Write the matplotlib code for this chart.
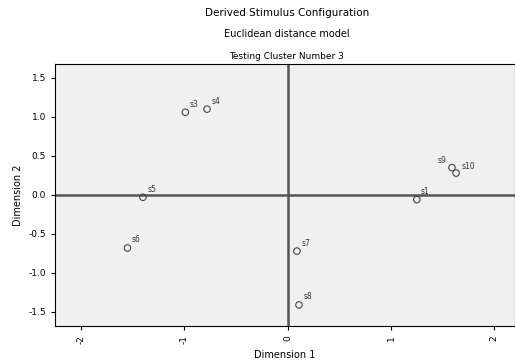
import numpy as np
import matplotlib.pyplot as plt

# Stimulus coordinates (dimension 1, dimension 2)
names = ['s3', 's4', 's5', 's6', 's7', 's8', 's9', 's10', 's1']
dim1 = [-0.99, -0.78, -1.40, -1.55, 0.09, 0.11, 1.59, 1.63, 1.25]
dim2 = [1.06, 1.10, -0.03, -0.68, -0.72, -1.41, 0.35, 0.28, -0.06]
# label offsets in points
offs = [(3, 4), (3, 4), (3, 4), (3, 4), (3, 4), (3, 4), (-10, 3), (4, 3), (3, 4)]

xticks = [-2, -1, 0, 1, 2]
yticks = [-1.5, -1.0, -0.5, 0.0, 0.5, 1.0, 1.5]

plt.rcParams.update({'font.family': 'DejaVu Sans', 'font.size': 6.5})

fig = plt.figure(figsize=(5.15, 3.63), dpi=100)
ax = fig.add_axes([0.107, 0.102, 0.893, 0.722])
ax.set_facecolor('#f0f0f0')

ax.axvline(0, color='#555555', lw=1.8, zorder=1)
ax.axhline(0, color='#555555', lw=1.8, zorder=1)

ax.scatter(dim1, dim2, s=22, facecolors='none', edgecolors='#444444', lw=0.8, zorder=3)
for n, x, y, o in zip(names, dim1, dim2, offs):
    ax.annotate(n, (x, y), xytext=o, textcoords='offset points', fontsize=5.5, color='#333333')

ax.set_xlim(-2.25, 2.2)
ax.set_ylim(-1.68, 1.68)
ax.set_xticks(xticks)
ax.set_xticklabels([str(t) for t in xticks], rotation=90)
ax.set_yticks(yticks)
ax.set_yticklabels([f'{t:.1f}' for t in yticks])
ax.tick_params(length=3, width=0.8, direction='out')
for s in ax.spines.values():
    s.set_linewidth(0.8)

ax.set_xlabel('Dimension 1', fontsize=7)
ax.set_ylabel('Dimension 2', fontsize=7)

fig.text(0.557, 0.965, 'Derived Stimulus Configuration', ha='center', va='center', fontsize=7.5)
fig.text(0.557, 0.905, 'Euclidean distance model', ha='center', va='center', fontsize=7)
fig.text(0.557, 0.843, 'Testing Cluster Number 3', ha='center', va='center', fontsize=6.5)

fig.savefig('out.png', dpi=100)
